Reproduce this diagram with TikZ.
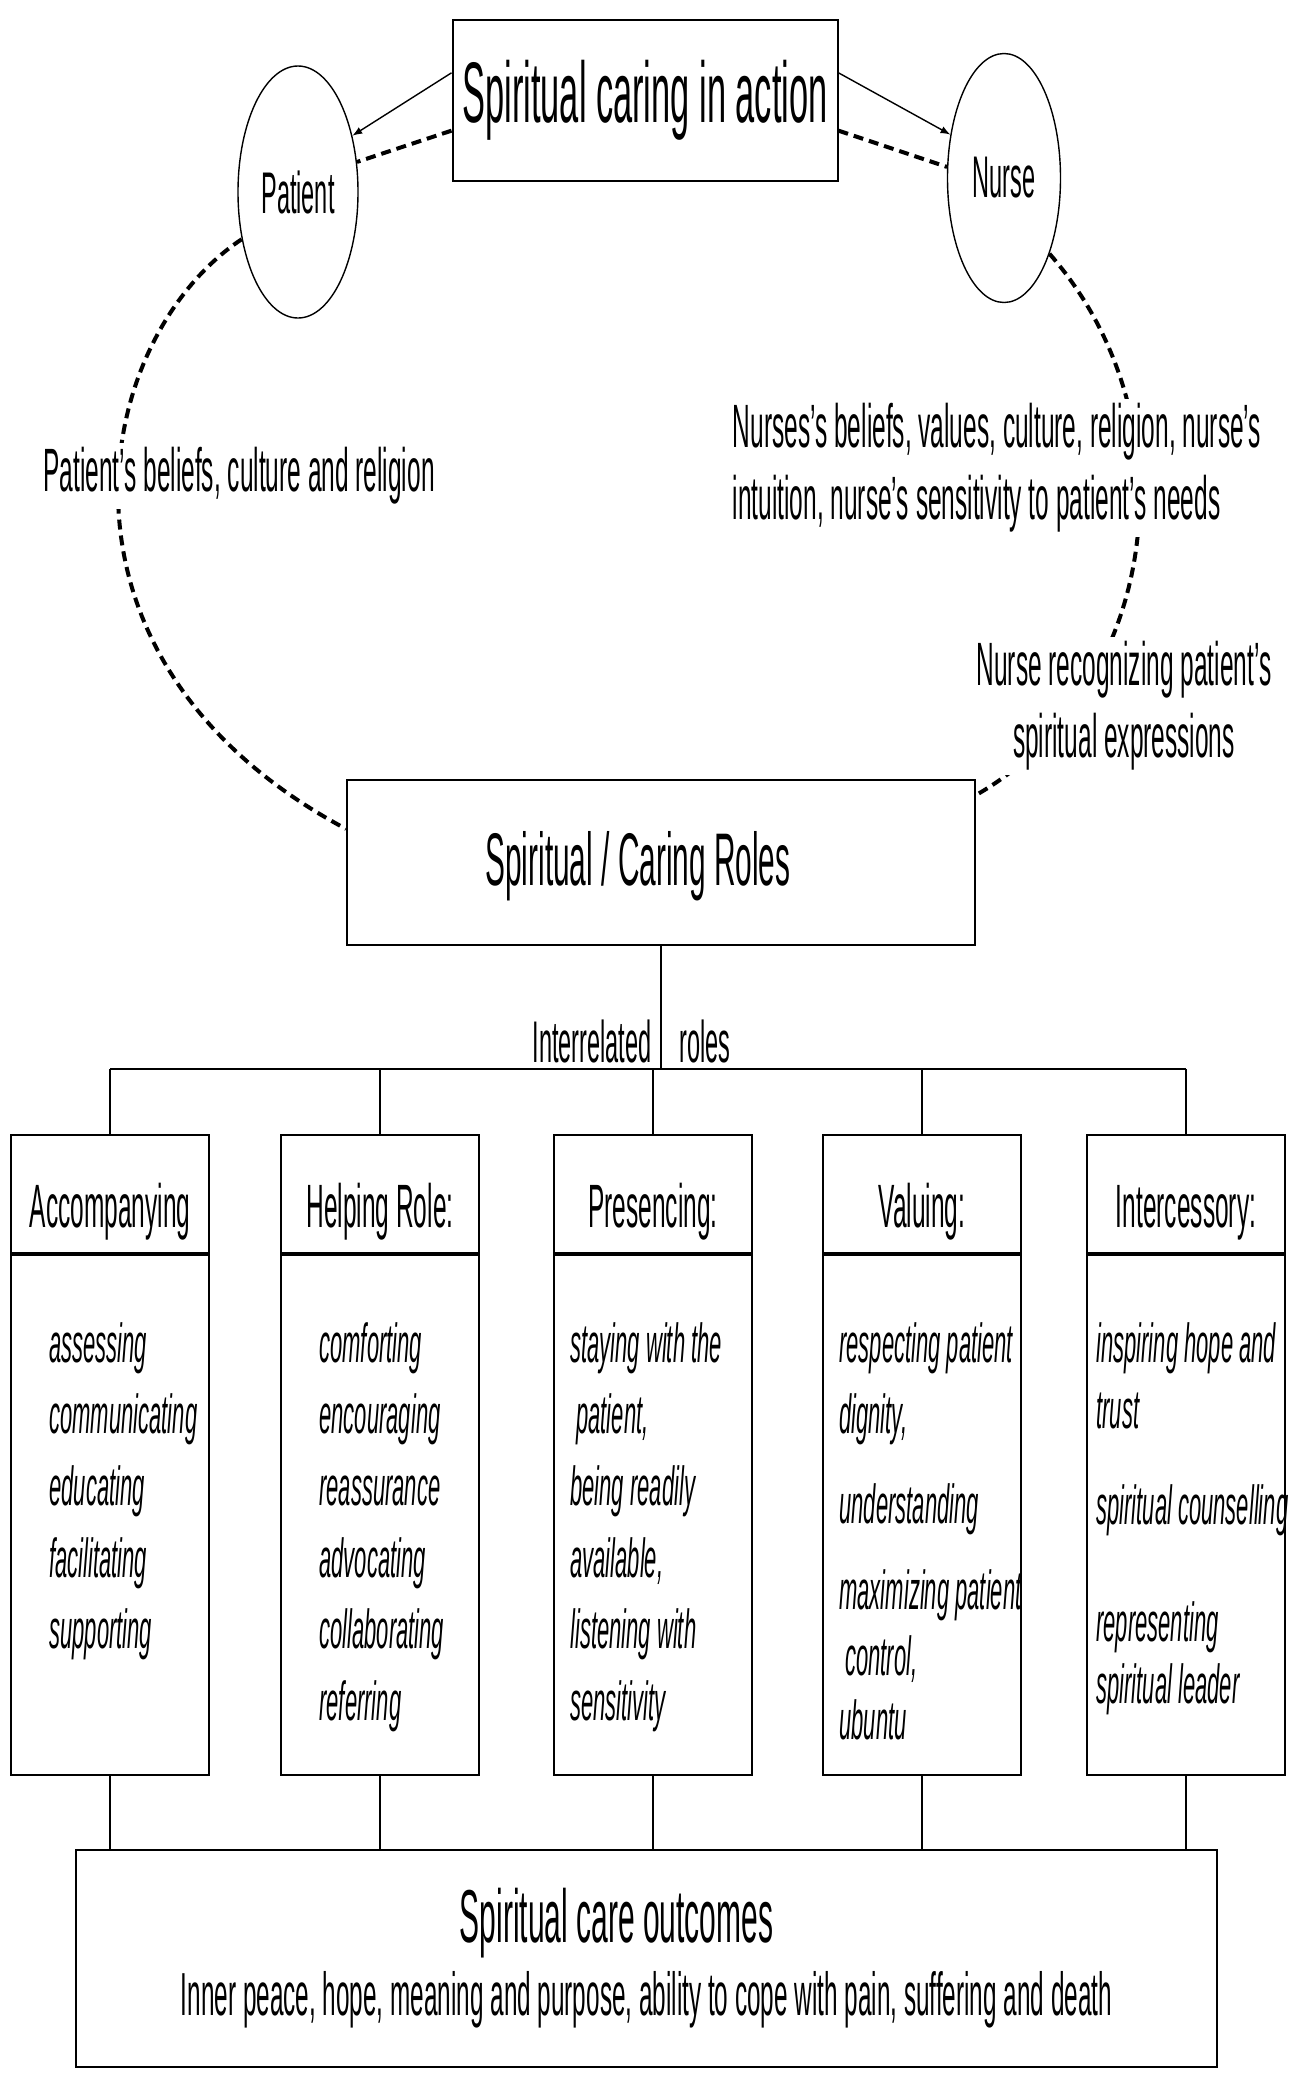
\documentclass[tikz,border=0pt]{standalone}
\usepackage{fontspec}
\setmainfont[FakeStretch=0.4]{Liberation Sans}
\usetikzlibrary{arrows, positioning, shapes.geometric}
\colorlet{box edge}{black}
\tikzset{
  titlebox/.style={draw=box edge, line width=1pt, inner sep=0pt},
  rolehead/.style={draw=box edge, line width=1pt, minimum width=99pt, minimum height=59pt, text height=33pt, text depth=0pt, font=\fontsize{30.6}{34}\selectfont},
  rolebody/.style={draw=box edge, line width=1pt, minimum width=99pt, minimum height=260pt},
  roleitems/.style={anchor=north west, align=left, inner sep=0pt, font=\fontsize{27.5}{35.8}\selectfont\itshape},
  person/.style={ellipse, draw=box edge, line width=0.7pt, inner sep=0pt, font=\fontsize{29.4}{32}\selectfont},
  note/.style={fill=white, inner sep=2pt, font=\fontsize{30.6}{36}\selectfont},
  pointer/.style={-latex, line width=0.7pt},
  link/.style={line width=2pt, dash pattern=on 5pt off 3pt},
  stem/.style={line width=0.6pt},
  bus/.style={line width=1pt}
}

\begin{document}
\begin{tikzpicture}[x=0.5pt, y=-0.5pt]
  \useasboundingbox (0,0) rectangle (1293,2079);
  % the caring cycle
  \node[titlebox, minimum width=192.5pt, minimum height=80.5pt, font=\fontsize{43}{48}\selectfont] (action) at (645,100) {Spiritual caring in action};
  \node[person, minimum width=60pt, minimum height=126pt] (patient) at (298,192) {Patient};
  \node[person, minimum width=56.5pt, minimum height=124.5pt] (nurse) at (1004,178) {Nurse};
  \node[titlebox, minimum width=314pt, minimum height=82.5pt, text depth=4pt, font=\fontsize{37.3}{42}\selectfont] (roles) at (661,862) {Spiritual / Caring Roles\hspace*{23pt}};
  \draw[pointer] (action.172) -- (patient.46);
  \draw[link] (action.189) -- (patient.27);
  \draw[pointer] (action.8) -- (nurse.141);
  \draw[link] (action.-9) -- (nurse.169);
  \draw[link] (patient.220) .. controls (90,340) and (30,660) .. (roles.174);
  \draw[link] (nurse.-59) .. controls (1195,420) and (1160,690) .. (roles.12);
  \node[note] (patbel) at (239,476) {Patient's beliefs, culture and religion};
  \node[note, align=left] (nursebel) at (997,468) {Nurses's beliefs, values, culture, religion, nurse's\\intuition, nurse's sensitivity to patient's needs};
  \node[note, align=center] (recog) at (1124,706) {Nurse recognizing patient's\\spiritual expressions};

  % the five roles
  \coordinate (bus) at (652,1069);
  \coordinate (split) at (roles.south |- 0,1041);
  \draw[stem] (roles.south) -- (roles.south |- bus);
  \node[anchor=east, inner sep=0pt, font=\fontsize{29.4}{32}\selectfont] (inter) at ([xshift=-4.5pt]split) {Interrelated};
  \node[anchor=west, inner sep=0pt, font=\fontsize{29.4}{32}\selectfont] (rolesword) at ([xshift=9pt]split) {roles};
  \node[rolehead] (h1) at (110,1194) {Accompanying};
  \node[rolehead] (h2) at (380,1194) {Helping Role:};
  \node[rolehead] (h3) at (653,1194) {Presencing:};
  \node[rolehead] (h4) at (922,1194) {Valuing:};
  \node[rolehead] (h5) at (1186,1194) {Intercessory:};
  \node[rolebody, below=0pt of h1] (b1) {};
  \node[rolebody, below=0pt of h2] (b2) {};
  \node[rolebody, below=0pt of h3] (b3) {};
  \node[rolebody, below=0pt of h4] (b4) {};
  \node[rolebody, below=0pt of h5] (b5) {};
  \draw[bus] (h1.north |- bus) -- (h5.north |- bus);
  \draw[stem] (h1.north) -- (h1.north |- bus);
  \draw[stem] (h2.north) -- (h2.north |- bus);
  \draw[stem] (h3.north) -- (h3.north |- bus);
  \draw[stem] (h4.north) -- (h4.north |- bus);
  \draw[stem] (h5.north) -- (h5.north |- bus);
  \node[roleitems] (t1) at ([xshift=19.5pt, yshift=-34pt]b1.north west) {assessing\\communicating\\educating\\facilitating\\supporting};
  \node[roleitems] (t2) at ([xshift=19.5pt, yshift=-34pt]b2.north west) {comforting\\encouraging\\reassurance\\advocating\\collaborating\\referring};
  \node[roleitems] (t3) at ([xshift=8.5pt, yshift=-34pt]b3.north west) {staying with the\\\hspace{3pt}patient,\\being readily\\available,\\listening with\\sensitivity};
  \node[roleitems] (t4) at ([xshift=8.5pt, yshift=-34pt]b4.north west) {respecting patient\\dignity,\\[9pt]understanding\\[7pt]maximizing patient\\[-2.5pt]\hspace{3pt}control,\\[-4pt]ubuntu};
  \node[roleitems] (t5) at ([xshift=5pt, yshift=-34pt]b5.north west) {inspiring hope and\\[-2.5pt]trust\\[12pt]spiritual counselling\\[22.5pt]representing\\[-4.5pt]spiritual leader};

  % outcomes
  \node[titlebox, minimum width=570.5pt, minimum height=108.5pt, align=center] (outcome) at (646.5,1958) {\fontsize{37.5}{42}\selectfont Spiritual care outcomes\hspace*{30pt}\\[6pt]\fontsize{30.4}{36}\selectfont Inner peace, hope, meaning and purpose, ability to cope with pain, suffering and death};
  \draw[stem] (b1.south) -- (b1.south |- outcome.north);
  \draw[stem] (b2.south) -- (b2.south |- outcome.north);
  \draw[stem] (b3.south) -- (b3.south |- outcome.north);
  \draw[stem] (b4.south) -- (b4.south |- outcome.north);
  \draw[stem] (b5.south) -- (b5.south |- outcome.north);
\end{tikzpicture}
\end{document}
